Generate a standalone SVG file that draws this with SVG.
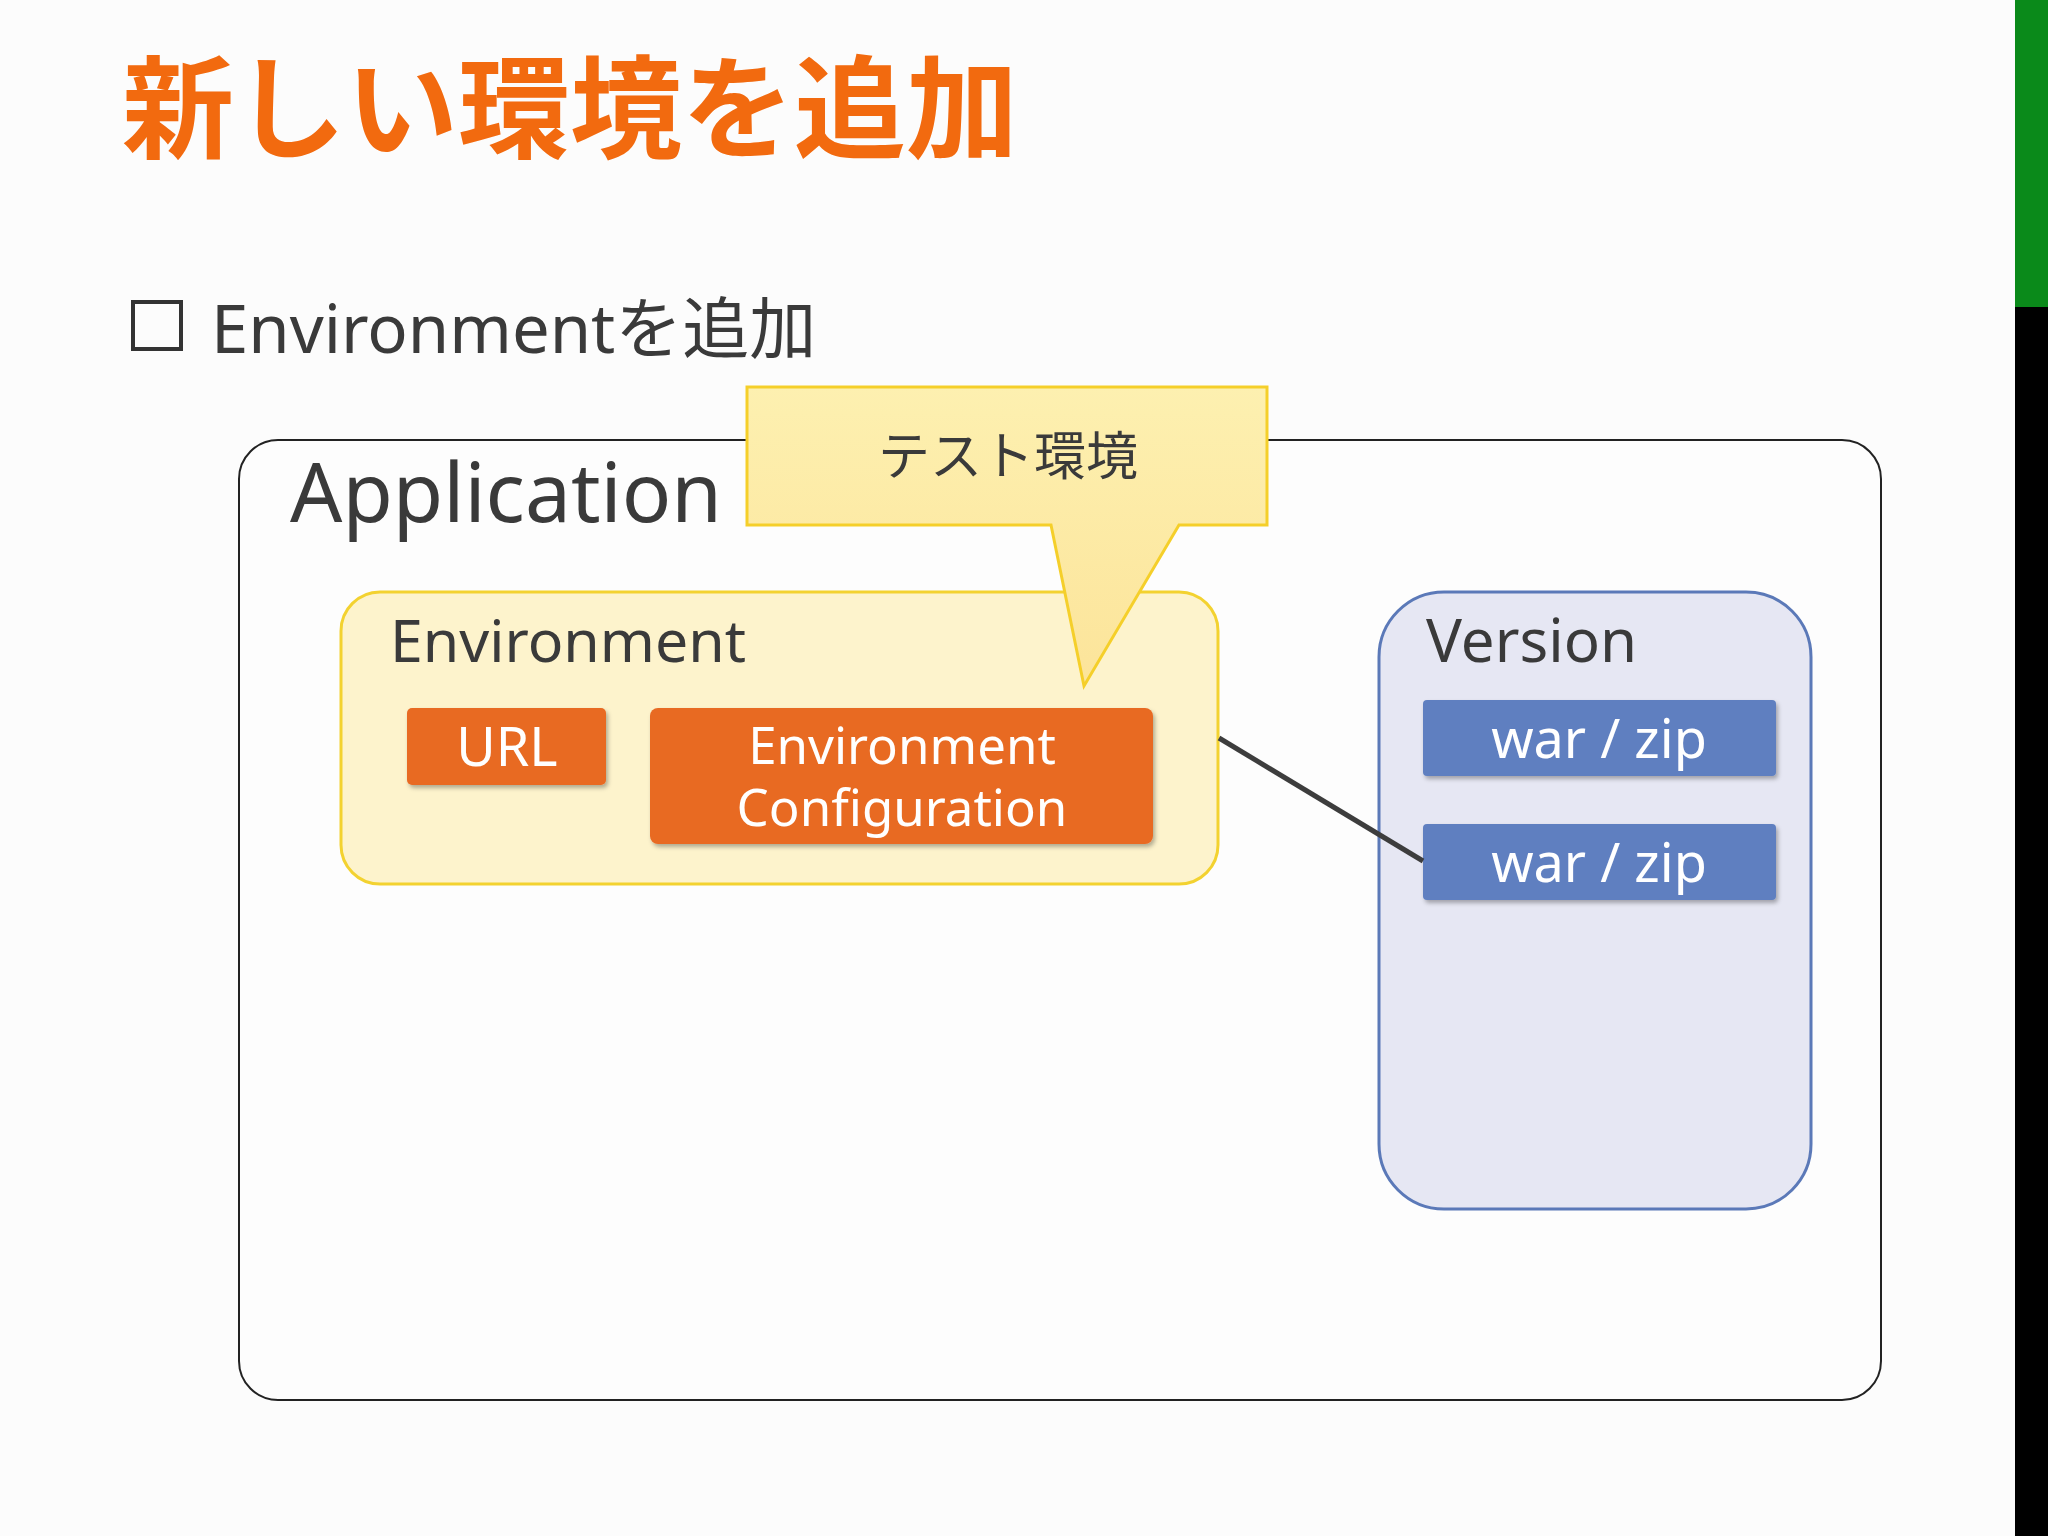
<svg xmlns="http://www.w3.org/2000/svg" width="2048" height="1536" viewBox="0 0 2048 1536">
<defs>
<linearGradient id="cg" x1="0" y1="0" x2="0" y2="1"><stop offset="0" stop-color="#fdf0b0"/><stop offset="1" stop-color="#fce49a"/></linearGradient>
<filter id="sh" x="-10%" y="-10%" width="120%" height="130%"><feDropShadow dx="2" dy="3" stdDeviation="2" flood-opacity="0.3"/></filter>
</defs>
<style>
text{font-family:"Noto Sans","Noto Sans CJK JP",sans-serif}
.lbl{fill:#3a3a3a}
.wt{fill:#fff;text-anchor:middle;font-size:54px}
.wt2{fill:#fff;text-anchor:middle;font-size:51px}
</style>
<rect width="2048" height="1536" fill="#fcfcfc"/>
<rect x="2015" y="0" width="33" height="307" fill="#0a8a1a"/>
<rect x="2015" y="307" width="33" height="1229" fill="#000"/>
<text x="122" y="150" font-size="112" font-weight="bold" fill="#f26a0f">新しい環境を追加</text>
<rect x="133" y="302" width="48" height="47" fill="none" stroke="#333" stroke-width="4"/>
<text x="211" y="353" font-size="67" class="lbl">Environmentを追加</text>
<g id="application">
<rect x="239" y="440" width="1642" height="960" rx="39" fill="#fdfdfd" stroke="#222" stroke-width="2"/>
<text x="290" y="522" font-size="82" class="lbl">Application</text>
</g>
<g id="environment">
<rect x="341" y="592" width="877" height="292" rx="39" fill="#fdf3cc" stroke="#f3d230" stroke-width="3"/>
<text x="390" y="662" font-size="59" class="lbl">Environment</text>
</g>
<g id="url">
<rect x="407" y="708" width="199" height="77" rx="5" fill="#e86a24" filter="url(#sh)"/>
<text x="507" y="766" class="wt">URL</text>
</g>
<g id="envconfig">
<rect x="650" y="708" width="503" height="136" rx="8" fill="#e86a24" filter="url(#sh)"/>
<text x="902" y="764" class="wt2">Environment</text>
<text x="902" y="826" class="wt2">Configuration</text>
</g>
<g id="version">
<rect x="1379" y="592" width="432" height="617" rx="65" fill="#e6e7f3" stroke="#5b79b8" stroke-width="3"/>
<text x="1426" y="662" font-size="60" class="lbl">Version</text>
</g>
<g id="war1">
<rect x="1423" y="700" width="353" height="76" rx="4" fill="#5e7fc0" filter="url(#sh)"/>
<text x="1599" y="758" class="wt">war / zip</text>
</g>
<g id="war2">
<rect x="1423" y="824" width="353" height="76" rx="4" fill="#5e7fc0" filter="url(#sh)"/>
<text x="1599" y="882" class="wt">war / zip</text>
</g>
<g id="connectors">
<line x1="1219" y1="738" x2="1423" y2="861" stroke="#3d3d3d" stroke-width="5"/>
</g>
<g id="callout">
<path d="M747,387 H1267 V525 H1179 L1084,686 L1051,525 H747 Z" fill="url(#cg)" stroke="#f5cf2a" stroke-width="3"/>
<text x="1008" y="475" font-size="52" text-anchor="middle" class="lbl">テスト環境</text>
</g>
</svg>
